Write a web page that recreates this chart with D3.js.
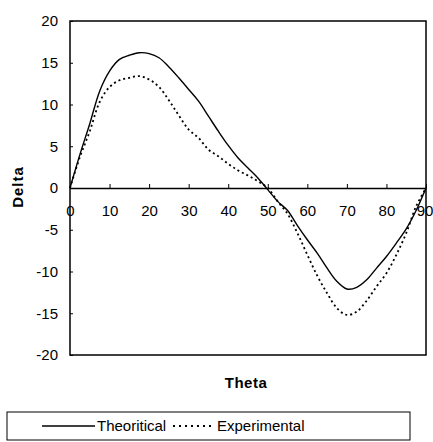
<!DOCTYPE html>
<html>
<head>
<meta charset="utf-8">
<script src="https://cdn.jsdelivr.net/npm/d3@7"></script>
<style>
  body { margin: 0; background: #fff; }
  text { font-family: "Liberation Sans", Arial, sans-serif; fill: #000; }
</style>
</head>
<body>
<div id="chart"></div>
<script>
// data
var theta = [0,2.5,5,7.5,10,12.5,15,17.5,20,22.5,25,27.5,30,32.5,35,37.5,40,42.5,45,47.5,50,52.5,55,57.5,60,62.5,65,67.5,70,72.5,75,77.5,80,82.5,85,87.5,90];
var theoritical = [0,4.0,7.7,11.6,14.0,15.4,15.9,16.2,16.1,15.6,14.5,13.2,11.8,10.4,8.6,6.8,5.1,3.6,2.4,1.2,-0.2,-1.6,-2.7,-4.5,-6.2,-7.8,-9.6,-11.2,-12.1,-11.9,-11.0,-9.6,-8.2,-6.6,-4.9,-2.7,0];
var experimental = [0,3.7,6.8,10.3,12.1,12.9,13.2,13.4,13.0,12.1,10.5,8.7,7.0,6.0,4.6,3.8,2.9,2.1,1.5,0.8,0,-1.6,-3.1,-5.4,-8.0,-10.5,-12.6,-14.4,-15.2,-14.8,-13.5,-11.8,-10.2,-8.0,-5.4,-2.2,0];
var xTicks = [0,10,20,30,40,50,60,70,80,90];
var yTicks = [-20,-15,-10,-5,0,5,10,15,20];

var width = 433, height = 442;
var margin = {top: 21, right: 7, bottom: 87, left: 70};
var w = width - margin.left - margin.right,
    h = height - margin.top - margin.bottom;

var svg = d3.select("#chart")
  .append("svg")
    .attr("width", width)
    .attr("height", height);

var g = svg.append("g")
  .attr("transform", "translate(" + margin.left + "," + margin.top + ")");

var x = d3.scaleLinear().domain([0, 90]).range([0, w]);
var y = d3.scaleLinear().domain([-20, 20]).range([h, 0]);
var fmt = function(d) { return String(d); };

// plot frame
g.append("rect")
  .attr("width", w).attr("height", h)
  .attr("fill", "none")
  .attr("stroke", "#000")
  .attr("stroke-width", 1.5);

// x axis on the zero line, ticks pointing up
var xAxis = g.append("g")
  .attr("transform", "translate(0," + y(0) + ")")
  .call(d3.axisBottom(x).tickValues(xTicks).tickFormat(fmt).tickSizeInner(-4).tickSizeOuter(0).tickPadding(17));
xAxis.select(".domain").attr("stroke-width", 1.5);
xAxis.selectAll("line").attr("stroke-width", 1);
xAxis.selectAll("text").style("font-size", "15px")
  .attr("dx", function(d) { return d === 90 ? "-1.5px" : null; });

// y axis
var yAxis = g.append("g")
  .call(d3.axisLeft(y).tickValues(yTicks).tickFormat(fmt).tickSizeInner(-3).tickSizeOuter(0).tickPadding(12));
yAxis.select(".domain").remove();
yAxis.selectAll("text").style("font-size", "15px");

var line = function(vals) {
  return d3.line()
    .curve(d3.curveCatmullRom.alpha(0.5))
    .x(function(d, i) { return x(theta[i]); })
    .y(function(d) { return y(d); })(vals);
};

g.append("path")
  .attr("d", line(theoritical))
  .attr("fill", "none")
  .attr("stroke", "#000")
  .attr("stroke-width", 1.4);

g.append("path")
  .attr("d", line(experimental))
  .attr("fill", "none")
  .attr("stroke", "#000")
  .attr("stroke-width", 1.8)
  .attr("stroke-dasharray", "2,3");

// axis titles
svg.append("text")
  .attr("transform", "translate(22.5,187) rotate(-90)")
  .attr("text-anchor", "middle")
  .style("font-size", "15px")
  .style("font-weight", "bold")
  .style("letter-spacing", "1px")
  .text("Delta");

svg.append("text")
  .attr("x", 246).attr("y", 388)
  .attr("text-anchor", "middle")
  .style("font-size", "15px")
  .style("font-weight", "bold")
  .style("letter-spacing", "0.5px")
  .text("Theta");

// legend
var leg = svg.append("g");
leg.append("rect")
  .attr("x", 7).attr("y", 412).attr("width", 403).attr("height", 28)
  .attr("fill", "none").attr("stroke", "#000").attr("stroke-width", 1);
leg.append("line")
  .attr("x1", 42).attr("x2", 95).attr("y1", 426).attr("y2", 426)
  .attr("stroke", "#000").attr("stroke-width", 1.4);
leg.append("text")
  .attr("x", 97).attr("y", 431)
  .style("font-size", "15px")
  .text("Theoritical");
leg.append("line")
  .attr("x1", 173).attr("x2", 213).attr("y1", 426).attr("y2", 426)
  .attr("stroke", "#000").attr("stroke-width", 1.8)
  .attr("stroke-dasharray", "2,4");
leg.append("text")
  .attr("x", 217).attr("y", 431)
  .style("font-size", "15px")
  .text("Experimental");
</script>
</body>
</html>
